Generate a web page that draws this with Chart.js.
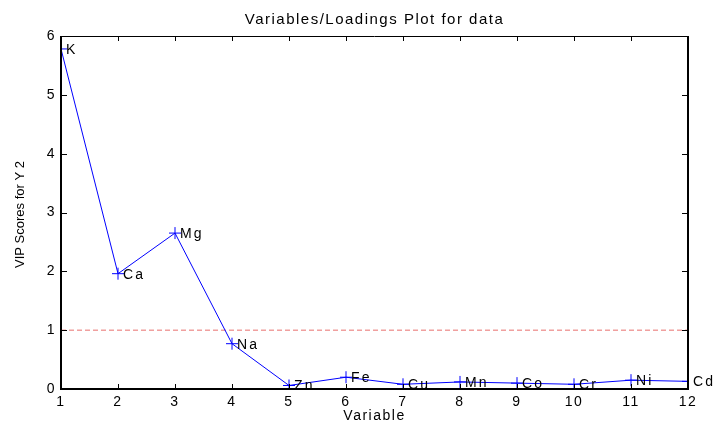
<!DOCTYPE html>
<html>
<head>
<meta charset="utf-8">
<title>VIP scores</title>
<script src="https://cdn.jsdelivr.net/npm/chart.js@4.4.0/dist/chart.umd.min.js"></script>
<style>
  html, body { margin: 0; padding: 0; background: #fff; }
  canvas { display: block; }
</style>
</head>
<body>
<canvas id="vip" width="715" height="427"></canvas>
<script>
// VIP scores per variable (element), with the usual cut-off at 1
const variables = [1, 2, 3, 4, 5, 6, 7, 8, 9, 10, 11, 12];
const elements = ['K', 'Ca', 'Mg', 'Na', 'Zn', 'Fe', 'Cu', 'Mn', 'Co', 'Cr', 'Ni', 'Cd'];
const vipScores = [5.78, 1.96, 2.65, 0.77, 0.06, 0.20, 0.08, 0.12, 0.10, 0.08, 0.15, 0.13];
const cutoff = 1;

const FONT = 'Liberation Sans, Arial, Helvetica, sans-serif';

// matlab-like box: inward ticks on all four sides, element names beside points
const matlabBox = {
  id: 'matlabBox',
  beforeDraw(chart) {
    chart.ctx.letterSpacing = '1.5px';
  },
  afterDatasetsDraw(chart) {
    const ctx = chart.ctx;
    const pts = chart.getDatasetMeta(0).data;
    ctx.save();
    ctx.letterSpacing = '2.2px';
    ctx.font = '14px ' + FONT;
    ctx.fillStyle = '#000';
    ctx.textAlign = 'left';
    ctx.textBaseline = 'middle';
    pts.forEach((p, i) => ctx.fillText(elements[i], p.x + 5, p.y + 1));
    ctx.restore();
  },
  afterDraw(chart) {
    const ctx = chart.ctx;
    const { left, right, top, bottom } = chart.chartArea;
    const xs = chart.scales.x, ys = chart.scales.y;
    ctx.save();
    ctx.strokeStyle = '#000';
    ctx.lineWidth = 1;
    ctx.beginPath();
    ctx.moveTo(left, top + 0.5);
    ctx.lineTo(right, top + 0.5);
    ctx.stroke();
    ctx.lineWidth = 2;
    ctx.beginPath();
    ctx.moveTo(left, top);
    ctx.lineTo(left, bottom);
    ctx.lineTo(right, bottom);
    ctx.lineTo(right, top);
    ctx.stroke();
    ctx.lineWidth = 1;
    ctx.beginPath();
    xs.ticks.forEach(t => {
      const px = Math.round(xs.getPixelForValue(t.value)) + 0.5;
      ctx.moveTo(px, bottom); ctx.lineTo(px, bottom - 5);
      ctx.moveTo(px, top); ctx.lineTo(px, top + 5);
    });
    ys.ticks.forEach(t => {
      const py = Math.round(ys.getPixelForValue(t.value)) + 0.5;
      ctx.moveTo(left, py); ctx.lineTo(left + 6, py);
      ctx.moveTo(right, py); ctx.lineTo(right - 6, py);
    });
    ctx.stroke();

    // y axis label
    ctx.letterSpacing = '0px';
    ctx.translate(20, (top + bottom) / 2 + 2);
    ctx.rotate(-Math.PI / 2);
    ctx.font = '13px ' + FONT;
    ctx.fillStyle = '#000';
    ctx.textAlign = 'center';
    ctx.textBaseline = 'middle';
    ctx.fillText('VIP Scores for Y 2', 0, 0);
    ctx.restore();
  }
};

const canvas = document.getElementById('vip');
new Chart(canvas.getContext('2d'), {
  type: 'line',
  data: {
    datasets: [
      {
        data: variables.map((v, i) => ({ x: v, y: vipScores[i] })),
        borderColor: '#0000ff',
        borderWidth: 1,
        pointStyle: 'cross',
        pointRadius: 6,
        pointBorderColor: '#0000ff',
        pointBorderWidth: 1,
        fill: false,
        tension: 0
      },
      {
        data: [{ x: variables[0], y: cutoff }, { x: variables[variables.length - 1], y: cutoff }],
        borderColor: '#e8706e',
        borderWidth: 1,
        borderDash: [5, 3],
        pointRadius: 0,
        fill: false
      }
    ]
  },
  options: {
    responsive: false,
    devicePixelRatio: 1,
    animation: false,
    layout: { padding: { left: 0, right: 27, top: 0, bottom: 0 } },
    plugins: {
      legend: { display: false },
      tooltip: { enabled: false },
      title: {
        display: true,
        fullSize: false,
        text: 'Variables/Loadings Plot for data',
        color: '#000',
        font: { family: FONT, size: 15, weight: 'normal' },
        padding: { top: 10.5, bottom: 7.5 }
      }
    },
    scales: {
      x: {
        type: 'linear',
        min: 1,
        max: 12,
        grid: { display: false, drawTicks: false },
        border: { display: false },
        ticks: { stepSize: 1, color: '#000', padding: 5, maxRotation: 0, font: { family: FONT, size: 14 } },
        title: {
          display: true,
          text: 'Variable',
          color: '#000',
          font: { family: FONT, size: 14 },
          padding: { top: 0, bottom: 2 }
        },
        afterFit: s => { s.height = 38; }
      },
      y: {
        min: 0,
        max: 6,
        grid: { display: false, drawTicks: false },
        border: { display: false },
        ticks: { stepSize: 1, color: '#000', padding: 5, font: { family: FONT, size: 14 } },
        afterFit: s => { s.width = 61; }
      }
    }
  },
  plugins: [matlabBox]
});
</script>
</body>
</html>
